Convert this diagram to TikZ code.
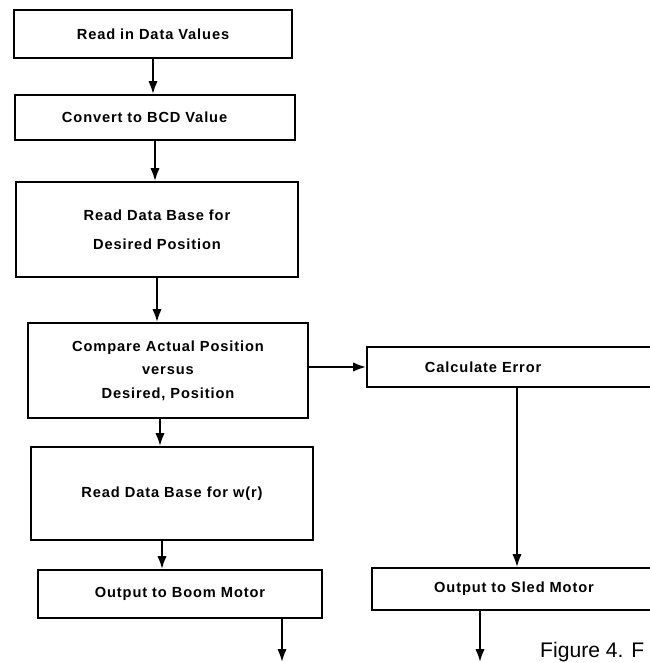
\documentclass[tikz,border=0pt]{standalone}
\usepackage{fontspec}
\newfontfamily\boxfont[LetterSpace=6]{Liberation Sans}
\newfontfamily\capfont{Liberation Sans}
\usepackage{tikz}
\usetikzlibrary{arrows.meta}
\tikzset{>={Latex[length=11pt,width=8pt]}}
\tikzset{
  box/.style={draw, line width=1.6pt, align=center, inner sep=0pt,
    font=\boxfont\bfseries\fontsize{12.5}{25}\selectfont},
  flow/.style={->, line width=1.8pt},
}

\begin{document}
\begin{tikzpicture}[x=0.03cm, y=-0.03cm]

  \useasboundingbox (0,0) rectangle (650,663);
  \clip (0,0) rectangle (650,663);

  % Left column
  \node[box, minimum width=8.34cm, minimum height=1.44cm] (readin) at (153,34) {Read in Data Values};
  \node[box, minimum width=8.4cm, minimum height=1.35cm, text width=5.58cm, inner xsep=1.41cm, align=left] (convert) at (155,117.5) {Convert to BCD Value};
  \node[box, minimum width=8.46cm, minimum height=2.85cm] (readdb) at (157,229.5) {Read Data Base for\\Desired Position};
  \node[box, minimum width=8.4cm, minimum height=2.85cm,
    font=\boxfont\bfseries\fontsize{12.5}{20}\selectfont] (compare) at (168,370.5) {Compare Actual Position\\versus\\Desired, Position};
  \node[box, minimum width=8.46cm, minimum height=2.79cm] (readw) at (172,493.5) {Read Data Base for w(r)};
  \node[box, minimum width=8.52cm, minimum height=1.44cm] (boom) at (180,594) {Output to Boom Motor};

  % Right column
  \node[box, minimum width=9cm, minimum height=1.2cm, text width=5.52cm, inner xsep=1.74cm, align=left] (calc) at (517,367) {Calculate Error};
  \node[box, minimum width=8.52cm, minimum height=1.26cm] (sled) at (514,589) {Output to Sled Motor};

  \coordinate (boomend) at (282,662);
  \coordinate (sledend) at (480,662);

  \draw[flow] (readin.south) -- (readin.south |- convert.north);
  \draw[flow] (convert.south) -- (convert.south |- readdb.north);
  \draw[flow] (readdb.south) -- (readdb.south |- compare.north);
  \draw[flow] ([xshift=-0.24cm]compare.south) -- ([xshift=-0.24cm]compare.south |- readw.north);
  \draw[flow] ([xshift=-0.3cm]readw.south) -- ([xshift=-0.3cm]readw.south |- boom.north);
  \draw[flow] (boom.south -| boomend) -- (boomend);

  \draw[flow] (compare.east |- calc.west) -- (calc.west);
  \draw[flow] (calc.south) -- (calc.south |- sled.north);
  \draw[flow] (sled.south -| sledend) -- (sledend);

  \node[anchor=base west, inner sep=0pt, font=\capfont\fontsize{18}{20}\selectfont] (figcap) at (540,657) {Figure 4. F};

\end{tikzpicture}
\end{document}
